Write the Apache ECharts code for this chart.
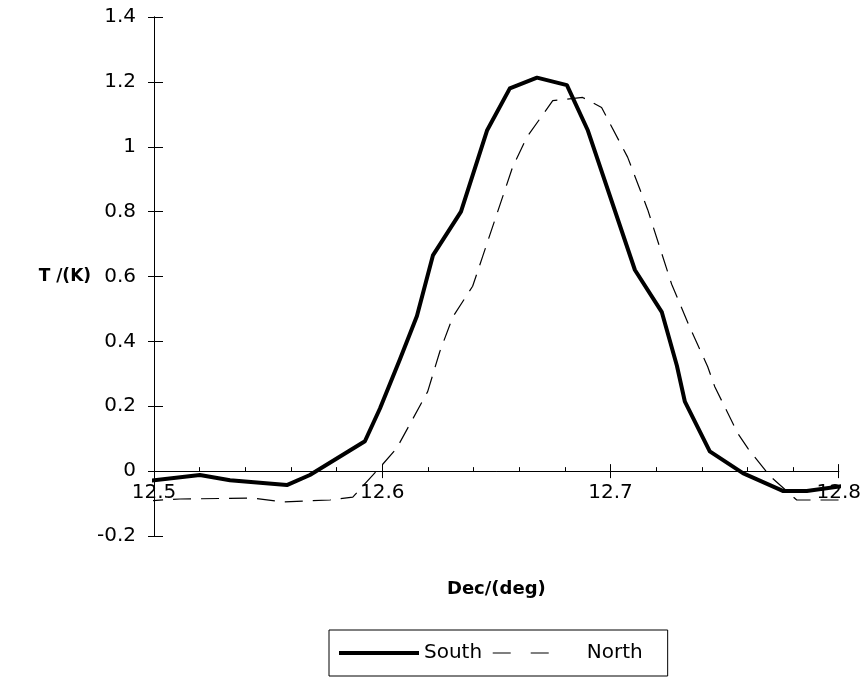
<!DOCTYPE html>
<html>
<head>
<meta charset="utf-8">
<script src="https://cdn.jsdelivr.net/npm/echarts@6/dist/echarts.min.js"></script>
<style>html,body{margin:0;padding:0;background:#fff}#c{width:864px;height:677px}</style>
</head>
<body>
<div id="c"></div>
<script>
const southDec = [12.4961, 12.5201, 12.5333, 12.5582, 12.5683, 12.5924, 12.5990, 12.6078, 12.6152, 12.6222, 12.6345, 12.6459, 12.6559, 12.6678, 12.6809, 12.6901, 12.7107, 12.7225, 12.7291, 12.7326, 12.7435, 12.7580, 12.7755, 12.7860, 12.8048];
const southT = [-0.031, -0.012, -0.028, -0.043, -0.012, 0.092, 0.193, 0.346, 0.478, 0.665, 0.80, 1.05, 1.18, 1.213, 1.19, 1.05, 0.62, 0.49, 0.325, 0.214, 0.061, -0.006, -0.061, -0.061, -0.043];
const northDec = [12.4961, 12.5114, 12.5433, 12.5565, 12.5771, 12.5871, 12.5998, 12.6063, 12.6199, 12.6252, 12.6309, 12.6396, 12.6440, 12.6571, 12.6633, 12.6747, 12.6878, 12.6961, 12.7075, 12.7163, 12.7215, 12.7268, 12.7347, 12.7426, 12.7457, 12.7558, 12.7602, 12.7698, 12.7816, 12.8048];
const northT = [-0.092, -0.086, -0.083, -0.095, -0.089, -0.080, 0.018, 0.070, 0.245, 0.368, 0.475, 0.570, 0.662, 0.937, 1.029, 1.142, 1.152, 1.121, 0.968, 0.806, 0.692, 0.576, 0.444, 0.322, 0.260, 0.116, 0.070, -0.015, -0.089, -0.089];
const xTicks = ['12.5', '12.6', '12.7', '12.8'];
const yTicks = ['-0.2', '0', '0.2', '0.4', '0.6', '0.8', '1', '1.2', '1.4'];
const yMin = -0.2, yMax = 1.4;

const FONT = 'DejaVu Sans';
const zip = (a, b) => a.map((v, i) => [v, b[i]]);
const GRID = {left: 154, right: 25, top: 17, bottom: 141};
const plotH = 677 - GRID.top - GRID.bottom;
// x axis crosses the y axis at T = 0 (moved up from the bottom edge)
const xAxisOffset = -plotH * (0 - yMin) / (yMax - yMin);

const chart = echarts.init(document.getElementById('c'), null, {renderer: 'canvas'});
const xBase = {
  type: 'value', min: 12.5, max: 12.8, interval: 0.1, position: 'bottom', offset: xAxisOffset,
  axisLine: {onZero: false, lineStyle: {color: '#000', width: 1}},
  splitLine: {show: false}
};
const yBase = {
  type: 'value', min: yMin, max: yMax, interval: 0.2, position: 'left',
  axisLine: {show: true, onZero: false, lineStyle: {color: '#000', width: 1}},
  splitLine: {show: false}
};
chart.setOption({
  animation: false,
  backgroundColor: '#fff',
  grid: Object.assign({containLabel: false}, GRID),
  xAxis: [
    Object.assign({}, xBase, {
      name: 'Dec/(deg)', nameLocation: 'middle', nameGap: 109,
      nameTextStyle: {fontFamily: FONT, fontSize: 18, fontWeight: 'bold', color: '#000'},
      axisTick: {show: true, length: 7, lineStyle: {color: '#000'}},
      axisLabel: {margin: 12, fontFamily: FONT, fontSize: 20, color: '#000',
        formatter: v => xTicks[Math.round((v - 12.5) / 0.1)] || ''}
    }),
    Object.assign({}, xBase, {
      axisTick: {show: true, inside: true, length: 7, lineStyle: {color: '#000'}},
      minorTick: {show: true, splitNumber: 5, length: 4, lineStyle: {color: '#000'}},
      axisLabel: {show: false}
    })
  ],
  yAxis: [
    Object.assign({}, yBase, {
      name: 'T /(K)', nameLocation: 'middle', nameRotate: 0, nameGap: 34,
      nameTextStyle: {fontFamily: FONT, fontSize: 17, fontWeight: 'bold', color: '#000'},
      axisTick: {show: true, length: 6, lineStyle: {color: '#000'}},
      axisLabel: {margin: 18, fontFamily: FONT, fontSize: 20, color: '#000',
        formatter: v => yTicks[Math.round((v - yMin) / 0.2)] || ''}
    }),
    Object.assign({}, yBase, {
      axisTick: {show: true, inside: true, length: 9, lineStyle: {color: '#000'}},
      axisLabel: {show: false}
    })
  ],
  legend: {
    left: 329, top: 630,
    orient: 'horizontal',
    borderColor: '#000', borderWidth: 1, borderRadius: 0,
    padding: [13, 25, 13, 8],
    itemWidth: 80, itemHeight: 14, itemGap: 10,
    itemStyle: {opacity: 0},
    textStyle: {fontFamily: FONT, fontSize: 20, color: '#000'},
    data: [
      {name: 'South', lineStyle: {width: 4, color: '#000'}},
      {name: 'North', lineStyle: {width: 1.2, color: '#000', type: [18, 20, 18, 30]},
        textStyle: {padding: [0, 0, 0, 9]}}
    ]
  },
  series: [
    {
      name: 'South', type: 'line', data: zip(southDec, southT),
      showSymbol: false, symbol: 'none', clip: false,
      lineStyle: {color: '#000', width: 4, join: 'round'}, itemStyle: {color: '#000'}
    },
    {
      name: 'North', type: 'line', data: zip(northDec, northT),
      showSymbol: false, symbol: 'none', clip: false,
      lineStyle: {color: '#000', width: 1.2, type: [18, 10]}, itemStyle: {color: '#000'}
    }
  ]
});
</script>
</body>
</html>
